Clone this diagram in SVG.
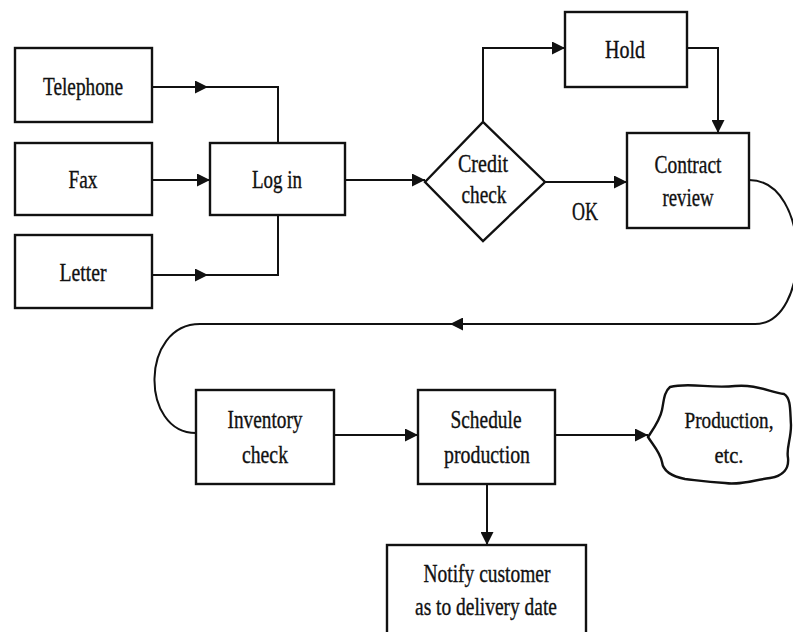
<svg xmlns="http://www.w3.org/2000/svg" width="793" height="632" viewBox="0 0 793 632">
  <style>
    .box { fill: #fff; stroke: #111; stroke-width: 2.4; }
    .wire { fill: none; stroke: #111; stroke-width: 2; }
    .lbl { font-family: "Liberation Serif", "Times New Roman", serif; font-size: 25px; fill: #111; stroke: #111; stroke-width: 0.35; text-anchor: middle; }
    .small { font-size: 23px; }
  </style>
  <defs>
    <marker id="arrow" viewBox="0 0 12 12" markerWidth="13" markerHeight="13" markerUnits="userSpaceOnUse" refX="12" refY="6" orient="auto">
      <path d="M0,0 L12,6 L0,12 Z" fill="#111"/>
    </marker>
  </defs>
  <rect width="793" height="632" fill="#fff"/>

  <!-- connectors -->
  <g id="connectors">
    <path class="wire" d="M152,87 L208,87" marker-end="url(#arrow)"/>
    <path class="wire" d="M206,87 L278,87 L278,143"/>
    <path class="wire" d="M152,180 L210,180" marker-end="url(#arrow)"/>
    <path class="wire" d="M152,275 L208,275" marker-end="url(#arrow)"/>
    <path class="wire" d="M206,275 L278,275 L278,215"/>
    <path class="wire" d="M345,180 L425,180" marker-end="url(#arrow)"/>
    <path class="wire" d="M483,122 L483,48 L565,48" marker-end="url(#arrow)"/>
    <path class="wire" d="M687,48 L718,48 L718,133" marker-end="url(#arrow)"/>
    <path class="wire" d="M545,182 L627,182" marker-end="url(#arrow)"/>
    <path class="wire" d="M749,180 C812,180 812,324 755,324 L450,324" marker-end="url(#arrow)"/>
    <path class="wire" d="M452,324 L200,324 C140,324 140,433 196,433"/>
    <path class="wire" d="M334,435 L418,435" marker-end="url(#arrow)"/>
    <path class="wire" d="M555,435 L648,435" marker-end="url(#arrow)"/>
    <path class="wire" d="M487,484 L487,545" marker-end="url(#arrow)"/>
    <text class="lbl" x="585" y="220" textLength="26" lengthAdjust="spacingAndGlyphs">OK</text>
  </g>

  <g id="telephone">
    <rect class="box" x="15" y="48" width="137" height="74"/>
    <text class="lbl" x="83" y="95" textLength="80" lengthAdjust="spacingAndGlyphs">Telephone</text>
  </g>
  <g id="fax">
    <rect class="box" x="15" y="143" width="137" height="72"/>
    <text class="lbl" x="83" y="188" textLength="29" lengthAdjust="spacingAndGlyphs">Fax</text>
  </g>
  <g id="letter">
    <rect class="box" x="15" y="235" width="137" height="73"/>
    <text class="lbl" x="83" y="281" textLength="47" lengthAdjust="spacingAndGlyphs">Letter</text>
  </g>
  <g id="login">
    <rect class="box" x="210" y="143" width="135" height="72"/>
    <text class="lbl" x="277" y="188" textLength="50" lengthAdjust="spacingAndGlyphs">Log in</text>
  </g>
  <g id="credit-check">
    <polygon class="box" points="425,182 483,122 545,182 483,241"/>
    <text class="lbl" x="483" y="172" textLength="50" lengthAdjust="spacingAndGlyphs">Credit</text>
    <text class="lbl" x="484" y="203" textLength="45" lengthAdjust="spacingAndGlyphs">check</text>
  </g>
  <g id="hold">
    <rect class="box" x="565" y="12" width="122" height="75"/>
    <text class="lbl" x="625" y="58" textLength="40" lengthAdjust="spacingAndGlyphs">Hold</text>
  </g>
  <g id="contract-review">
    <rect class="box" x="627" y="133" width="122" height="95"/>
    <text class="lbl" x="688" y="173" textLength="67" lengthAdjust="spacingAndGlyphs">Contract</text>
    <text class="lbl" x="688" y="206" textLength="51" lengthAdjust="spacingAndGlyphs">review</text>
  </g>
  <g id="inventory-check">
    <rect class="box" x="196" y="390" width="138" height="94"/>
    <text class="lbl" x="265" y="428" textLength="75" lengthAdjust="spacingAndGlyphs">Inventory</text>
    <text class="lbl" x="265" y="463" textLength="46" lengthAdjust="spacingAndGlyphs">check</text>
  </g>
  <g id="schedule-production">
    <rect class="box" x="418" y="390" width="137" height="94"/>
    <text class="lbl" x="486" y="428" textLength="71" lengthAdjust="spacingAndGlyphs">Schedule</text>
    <text class="lbl" x="487" y="463" textLength="86" lengthAdjust="spacingAndGlyphs">production</text>
  </g>
  <g id="production">
    <path class="box" d="M648,437 C654,428 660,420 662,410 C664,400 664,392 670,387 C690,382 710,389 735,386 C755,384 770,392 784,394 C791,398 790,410 791,425 C791,440 786,448 788,458 C789,468 784,476 770,478 C750,481 740,485 725,483 C705,482 695,480 685,479 C670,476 663,470 662,462 C660,452 653,445 648,437 Z"/>
    <text class="lbl small" x="729" y="428" textLength="89" lengthAdjust="spacingAndGlyphs">Production,</text>
    <text class="lbl small" x="729" y="463" textLength="29" lengthAdjust="spacingAndGlyphs">etc.</text>
  </g>
  <g id="notify-customer">
    <rect class="box" x="387" y="545" width="199" height="100"/>
    <text class="lbl" x="487" y="582" textLength="127" lengthAdjust="spacingAndGlyphs">Notify customer</text>
    <text class="lbl" x="486" y="615" textLength="142" lengthAdjust="spacingAndGlyphs">as to delivery date</text>
  </g>
</svg>
